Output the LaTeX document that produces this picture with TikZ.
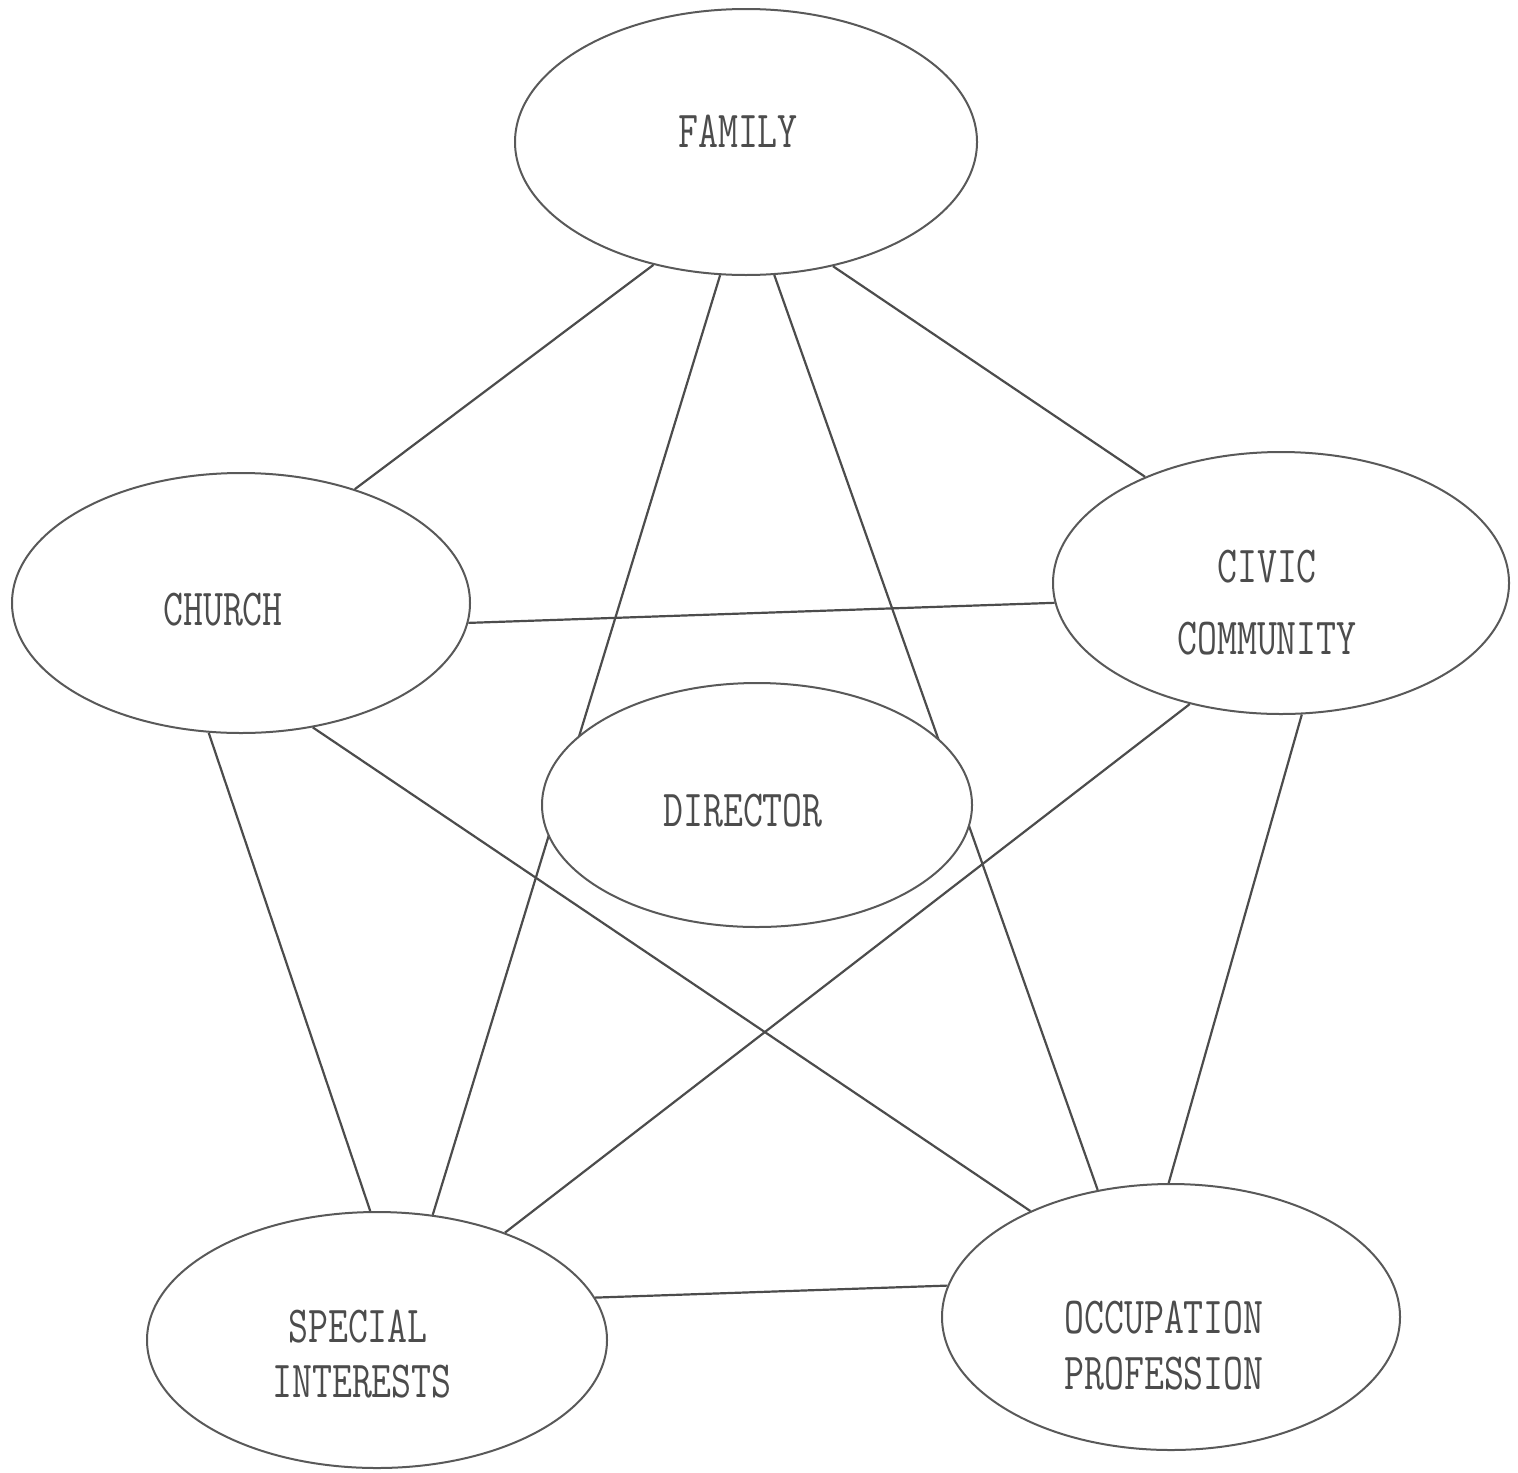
\documentclass[tikz,border=0pt]{standalone}
\usepackage{graphicx}
\usetikzlibrary{shapes.geometric}
\newcommand\lbltxt[1]{\scalebox{0.745}[1]{#1}}
\tikzset{
  ell/.style={ellipse, draw=black!65, line width=1pt, inner sep=0pt},
  conn/.style={draw=black!70, line width=1.1pt},
  lbl/.style={inner sep=0pt, text=black!70, font=\fontsize{26}{30}\selectfont\ttfamily}
}
\begin{document}
\begin{tikzpicture}[x=0.5pt,y=-0.5pt]
\useasboundingbox (0,0) rectangle (1518,1472);
% outer ellipses
\node[ell, minimum width=231pt, minimum height=133pt] (fam) at (746,142) {};
\node[ell, minimum width=229pt, minimum height=130pt] (chu) at (241,603) {};
\node[ell, minimum width=228pt, minimum height=131pt] (civ) at (1281,583) {};
\node[ell, minimum width=230pt, minimum height=128pt] (spe) at (377,1340) {};
\node[ell, minimum width=229pt, minimum height=133pt] (occ) at (1171,1317) {};
% connectors
\draw[conn] (fam.233.3) -- (chu.45.2);
\draw[conn] (fam.259.3) -- (spe.66.4);
\draw[conn] (fam.282.6) -- (occ.120.6);
\draw[conn] (fam.305.4) -- (civ.142.5);
\draw[conn] (chu.355.8) -- (civ.185.5);
\draw[conn] (chu.256.7) -- (spe.93.1);
\draw[conn] (chu.300.5) -- (occ.143.6);
\draw[conn] (civ.233.3) -- (spe.40.7);
\draw[conn] (civ.279.2) -- (occ.91.7);
\draw[conn] (spe.11.4) -- (occ.172.4);
% director on top
\node[ell, fill=white, minimum width=215pt, minimum height=122pt] (dir) at (757,805) {};
% labels
\node[lbl] (famT) at (738,131) {\lbltxt{FAMILY}};
\node[lbl] (chuT) at (223,610) {\lbltxt{CHURCH}};
\node[lbl] (civT1) at (1267,567) {\lbltxt{CIVIC}};
\node[lbl] (civT2) at (1267,639) {\lbltxt{COMMUNITY}};
\node[lbl] (dirT) at (743,811) {\lbltxt{DIRECTOR}};
\node[lbl] (speT1) at (358,1327) {\lbltxt{SPECIAL}};
\node[lbl] (speT2) at (362,1382) {\lbltxt{INTERESTS}};
\node[lbl] (occT1) at (1164,1318) {\lbltxt{OCCUPATION}};
\node[lbl] (occT2) at (1164,1374) {\lbltxt{PROFESSION}};
\end{tikzpicture}
\end{document}
